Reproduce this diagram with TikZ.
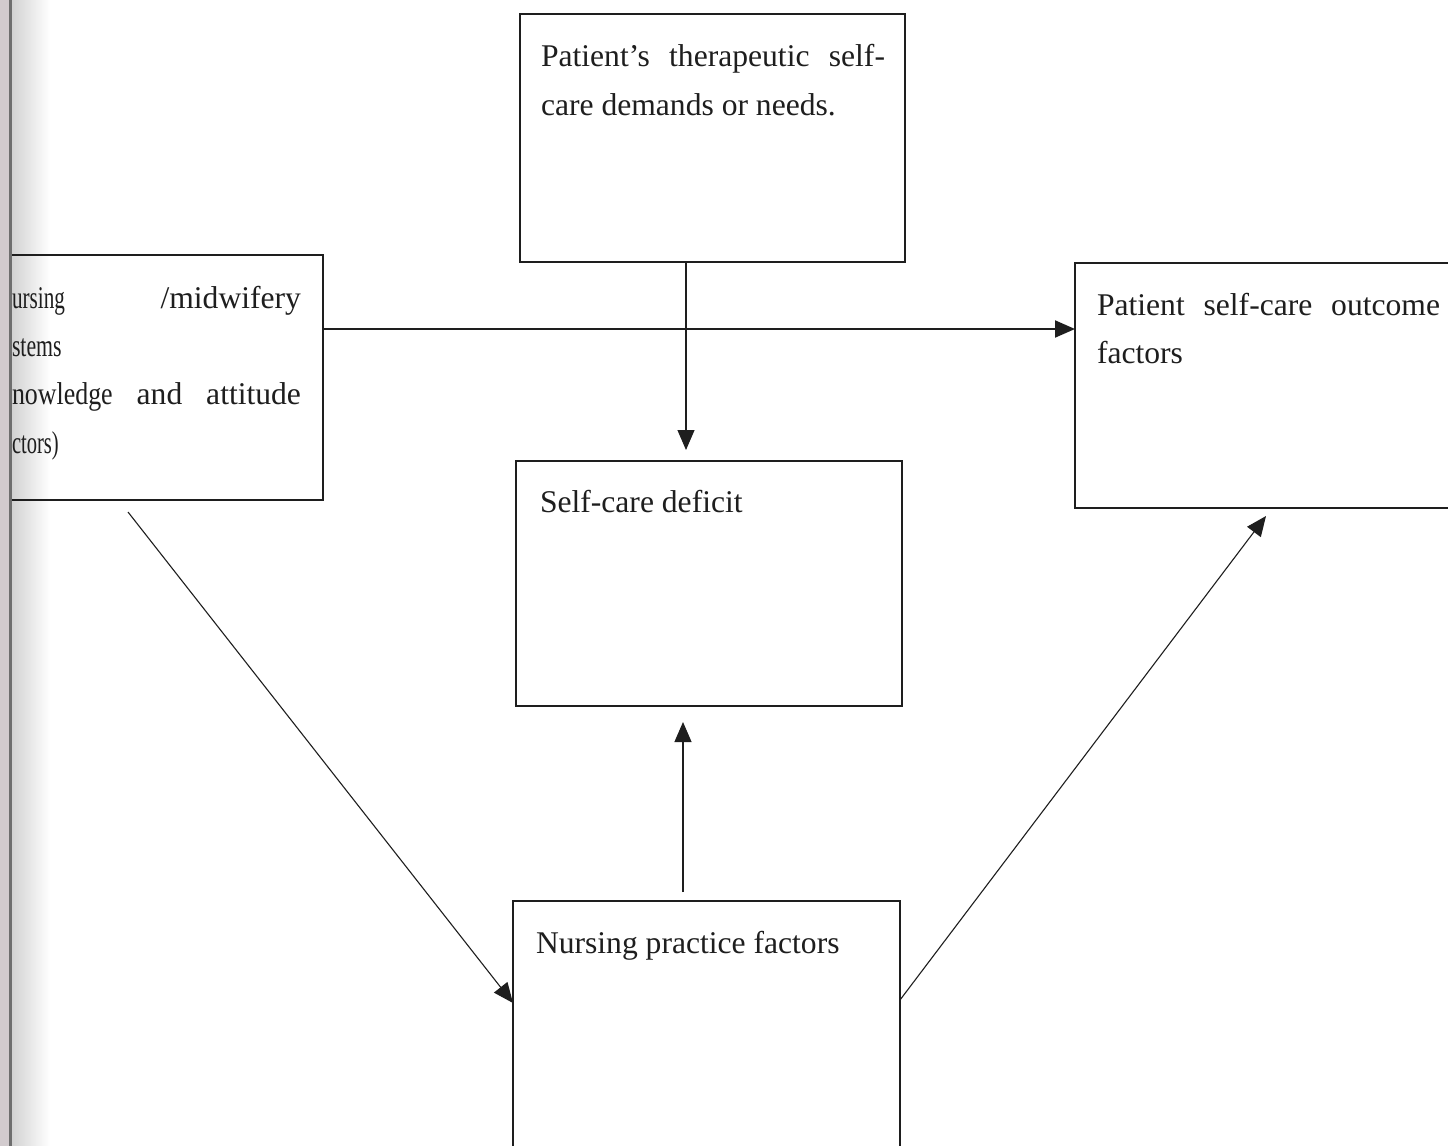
\documentclass[tikz,border=0pt]{standalone}
\usepackage{fontspec}
\usepackage{graphicx}
\setmainfont{Liberation Serif}
\usetikzlibrary{arrows.meta,calc}
\definecolor{ink}{HTML}{1E1E1E}
\definecolor{stripgray}{HTML}{D2CBCE}
\definecolor{edgegray}{HTML}{6E6E6E}
\begin{document}
\begin{tikzpicture}[x=0.5pt,y=-0.5pt,
  box/.style={draw=ink, line width=0.8pt, rectangle, inner sep=0pt, outer sep=0pt, anchor=north west},
  txt/.style={font=\fontsize{15.8}{24}\selectfont, text=ink, inner sep=0pt, outer sep=0pt, anchor=base west},
  conn/.style={draw=ink, line width=0.55pt, -{Triangle[length=10pt,width=8.5pt]}},
]
\useasboundingbox (0,0) rectangle (1448,1146);
\fill[white] (0,0) rectangle (1448,1146);
\clip (0,0) rectangle (1448,1146);

% scanned page edge shadow (behind everything)
\shade[left color=black!18, right color=white] (11,0) rectangle (50,1146);

% boxes
\node[box, minimum width=192.5pt, minimum height=124pt] (top) at (520,14) {};
\node[box, minimum width=176.5pt, minimum height=122.5pt] (left) at (-30,255) {};
\node[box, minimum width=193pt, minimum height=122.5pt] (deficit) at (516,461) {};
\node[box, minimum width=202.5pt, minimum height=122.5pt] (right) at (1075,263) {};
\node[box, minimum width=193.5pt, minimum height=140pt] (bottom) at (513,901) {};

% texts
\node[txt] (t1) at (541,66) {\makebox[172pt][s]{Patient’s therapeutic self-}};
\node[txt] (t2) at (541,115) {care demands or needs.};

\node[txt] (l1) at (12,308) {\makebox[144.5pt][s]{\scalebox{0.67}[1]{ursing} /midwifery}};
\node[txt] (l2) at (12,356) {\scalebox{0.69}[1]{stems}};
\node[txt] (l3) at (12,404) {\makebox[144.5pt][s]{\scalebox{0.82}[1]{nowledge} and attitude}};
\node[txt] (l4) at (12,453) {\scalebox{0.65}[1]{ctors)}};

\node[txt] (r1) at (1097,315) {\makebox[171.5pt][s]{Patient self-care outcome}};
\node[txt] (r2) at (1097,363) {factors};

\node[txt] (d1) at (540,512) {Self-care deficit};
\node[txt] (n1) at (536,953) {Nursing practice factors};

% helper coordinates
\coordinate (ya) at (0,329);
\coordinate (xd) at (686,0);
\coordinate (xu) at (683,0);
\coordinate (s1) at (128,512);
\coordinate (y1) at (0,1003);
\coordinate (y2) at (0,1000);
\coordinate (t2) at (1266,516);

% connectors
\draw[conn, line width=1pt] (left.east |- ya) -- (right.west |- ya);
\draw[conn] (top.south -| xd) -- ($(deficit.north -| xd)+(0,-11)$);
\draw[conn] ($(bottom.north -| xu)+(0,-9)$) -- ($(deficit.south -| xu)+(0,16)$);
\draw[conn] (s1) -- (bottom.west |- y1);
\draw[conn] (bottom.east |- y2) -- (t2);

% scanned page edge
\fill[stripgray] (0,0) rectangle (10,1146);
\draw[edgegray, line width=1.2pt] (10.5,0) -- (10.5,1146);
\end{tikzpicture}
\end{document}
